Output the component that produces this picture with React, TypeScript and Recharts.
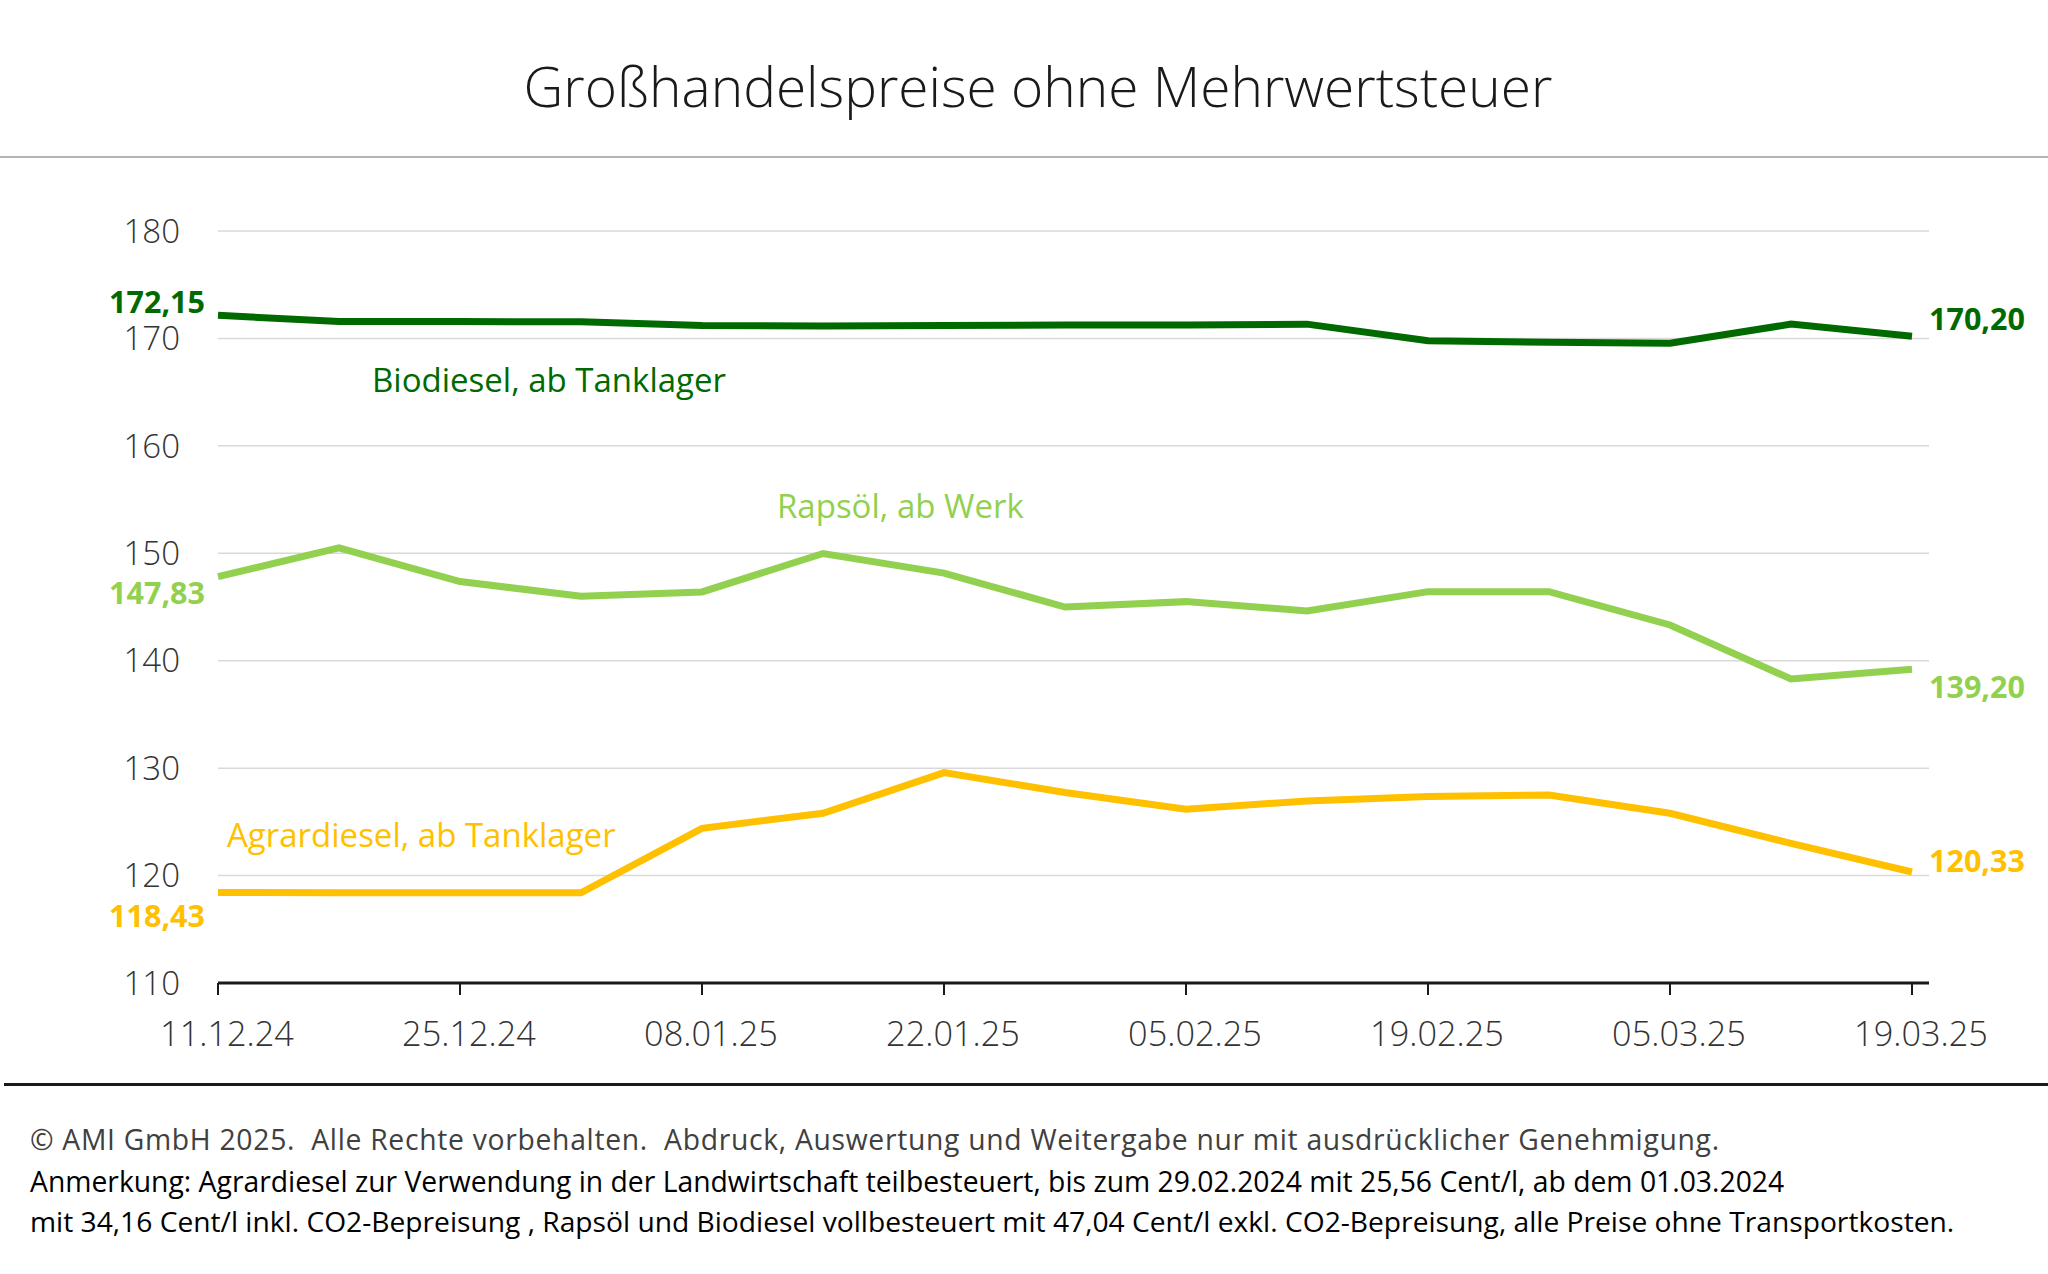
import { LineChart, Line, XAxis, YAxis, CartesianGrid, LabelList } from 'recharts';

const dates = [
  '11.12.24', '18.12.24', '25.12.24', '01.01.25', '08.01.25', '15.01.25', '22.01.25', '29.01.25',
  '05.02.25', '12.02.25', '19.02.25', '26.02.25', '05.03.25', '12.03.25', '19.03.25',
];
const biodiesel = [172.15, 171.57, 171.57, 171.55, 171.2, 171.15, 171.2, 171.25, 171.25, 171.33, 169.78, 169.65, 169.56, 171.33, 170.2];
const rapsoel = [147.83, 150.5, 147.37, 146.0, 146.4, 149.98, 148.16, 145.0, 145.5, 144.64, 146.43, 146.43, 143.33, 138.3, 139.2];
const agrardiesel = [118.43, 118.4, 118.4, 118.4, 124.4, 125.8, 129.58, 127.74, 126.17, 126.95, 127.35, 127.5, 125.8, 123.0, 120.33];
const yTicks = [110, 120, 130, 140, 150, 160, 170, 180];

const data = dates.map((date, i) => ({
  date,
  biodiesel: biodiesel[i],
  rapsoel: rapsoel[i],
  agrardiesel: agrardiesel[i],
}));

const FONT = '"Open Sans", sans-serif';
const DARK_GREEN = '#006a00';
const LIGHT_GREEN = '#92d050';
const GOLD = '#ffc000';

const fmt = (v: number) => v.toFixed(2).replace('.', ',');

// end labels: first and last point only
const endLabel = (color: string, leftDy: number, rightDy: number) => (props: any) => {
  const { x, y, value, index } = props;
  if (index !== 0 && index !== dates.length - 1) return null;
  const first = index === 0;
  return (
    <text
      x={first ? x - 13 : x + 17}
      y={y + (first ? leftDy : rightDy)}
      textAnchor={first ? 'end' : 'start'}
      dominantBaseline="central"
      fill={color}
      fontFamily={FONT}
      fontWeight={700}
      fontSize={30.5}
    >
      {fmt(value)}
    </text>
  );
};

const XTick = (props: any) => {
  const { x, y, payload } = props;
  return (
    <text x={x + 9} y={y} dy="0.71em" textAnchor="middle" fill="#333" fontFamily={FONT} fontWeight={300} fontSize={34.3}>
      {payload.value}
    </text>
  );
};

export default function App() {
  return (
    <div style={{ position: 'absolute', left: 0, top: 0, width: 2048, height: 1274, background: '#fff', overflow: 'hidden' }}>
      <LineChart
        width={2048}
        height={1274}
        data={data}
        margin={{ top: 231, right: 119, left: 0, bottom: 231 }}
      >
        <CartesianGrid vertical={false} stroke="#d9d9d9" strokeWidth={1.5} />
        <XAxis
          dataKey="date"
          interval={1}
          padding={{ left: 0, right: 17 }}
          height={60}
          axisLine={{ stroke: '#1a1a1a', strokeWidth: 3 }}
          tickLine={{ stroke: '#1a1a1a', strokeWidth: 2 }}
          tickSize={12}
          tickMargin={27}
          tick={<XTick />}
        />
        <YAxis
          domain={[110, 180]}
          ticks={yTicks}
          width={218}
          axisLine={false}
          tickLine={false}
          tickSize={0}
          tickMargin={38}
          tick={{ fill: '#333', fontFamily: FONT, fontWeight: 300, fontSize: 33 }}
        />
        <Line type="linear" dataKey="biodiesel" stroke={DARK_GREEN} strokeWidth={7} dot={false} isAnimationActive={false}>
          <LabelList dataKey="biodiesel" content={endLabel(DARK_GREEN, -14, -18)} />
        </Line>
        <Line type="linear" dataKey="rapsoel" stroke={LIGHT_GREEN} strokeWidth={7} dot={false} isAnimationActive={false}>
          <LabelList dataKey="rapsoel" content={endLabel(LIGHT_GREEN, 15, 17)} />
        </Line>
        <Line type="linear" dataKey="agrardiesel" stroke={GOLD} strokeWidth={7} dot={false} isAnimationActive={false}>
          <LabelList dataKey="agrardiesel" content={endLabel(GOLD, 23, -12)} />
        </Line>
      </LineChart>

      {/* title, separators, series names and footnotes */}
      <svg width={2048} height={1274} style={{ position: 'absolute', left: 0, top: 0, pointerEvents: 'none' }}>
        <text x={1038} y={107} textAnchor="middle" fill="#1a1a1a" fontFamily={FONT} fontWeight={300} fontSize={55}>
          Großhandelspreise ohne Mehrwertsteuer
        </text>
        <rect x={0} y={156} width={2048} height={2} fill="#b4b4b4" />
        <rect x={4} y={1083} width={2044} height={3} fill="#1a1a1a" />

        <text x={372} y={392} fill={DARK_GREEN} fontFamily={FONT} fontSize={33}>Biodiesel, ab Tanklager</text>
        <text x={777} y={518} fill={LIGHT_GREEN} fontFamily={FONT} fontSize={33}>Rapsöl, ab Werk</text>
        <text x={227} y={847} fill={GOLD} fontFamily={FONT} fontSize={33}>Agrardiesel, ab Tanklager</text>

        <text x={30} y={1150} fill="#404040" fontFamily={FONT} fontSize={28.3} letterSpacing={0.7} style={{ whiteSpace: 'pre' }}>
          © AMI GmbH 2025.  Alle Rechte vorbehalten.  Abdruck, Auswertung und Weitergabe nur mit ausdrücklicher Genehmigung.
        </text>
        <text x={30} y={1192} fill="#000" fontFamily={FONT} fontSize={28.3}>
          Anmerkung: Agrardiesel zur Verwendung in der Landwirtschaft teilbesteuert, bis zum 29.02.2024 mit 25,56 Cent/l, ab dem 01.03.2024
        </text>
        <text x={30} y={1232} fill="#000" fontFamily={FONT} fontSize={28.2}>
          mit 34,16 Cent/l inkl. CO2-Bepreisung , Rapsöl und Biodiesel vollbesteuert mit 47,04 Cent/l exkl. CO2-Bepreisung, alle Preise ohne Transportkosten.
        </text>
      </svg>
    </div>
  );
}
